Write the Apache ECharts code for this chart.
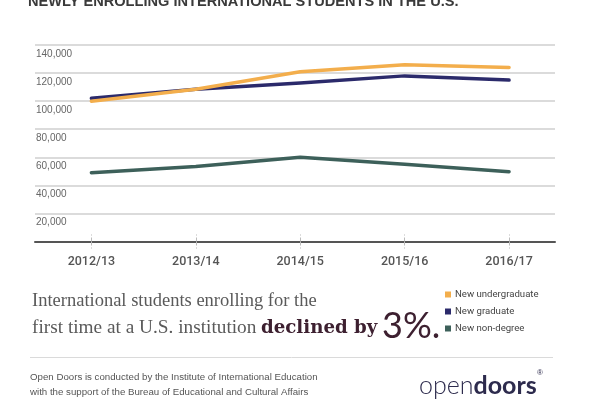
<!DOCTYPE html>
<html>
<head>
<meta charset="utf-8">
<script src="https://cdn.jsdelivr.net/npm/echarts@6/dist/echarts.min.js"></script>
<style>html,body{margin:0;padding:0;background:#fff;}#c{width:600px;height:400px;}</style>
</head>
<body>
<div id="c"></div>
<script>
// ---- data ----
const categories = ['2012/13', '2013/14', '2014/15', '2015/16', '2016/17'];
const newUndergraduate = [100000, 108500, 121000, 126000, 124000];
const newGraduate = [102000, 108500, 113000, 118000, 115000];
const newNonDegree = [49000, 53500, 60000, 55000, 49700];
const seriesNames = ['New undergraduate', 'New graduate', 'New non-degree'];
const yMax = 140000;
const yStep = 20000;
const titleText = 'NEWLY ENROLLING INTERNATIONAL STUDENTS IN THE U.S.';

const toPairs = arr => arr.map((v, i) => [i, v]);
const catIdx = categories.map((c, i) => i);

const chart = echarts.init(document.getElementById('c'), null, {renderer: 'canvas'});
const sans = "'Roboto', 'Liberation Sans', sans-serif";

const option = {
  backgroundColor: '#ffffff',
  animation: false,
  grid: {left: 35, right: 45, top: 45, bottom: 158.5},
  xAxis: [{
    type: 'value', min: -0.54, max: 4.44, position: 'bottom',
    axisLine: {show: true, lineStyle: {color: '#555', width: 2}},
    axisTick: {show: true, customValues: catIdx, length: 7, lineStyle: {color: '#bbb', width: 1, type: 'dashed'}},
    axisLabel: {show: true, customValues: catIdx, margin: 14,
      formatter: v => categories[Math.round(v)],
      color: '#555', fontSize: 12.5, fontWeight: 500, fontFamily: sans},
    splitLine: {show: false}
  }, {
    type: 'value', min: -0.54, max: 4.44, position: 'bottom', offset: 0,
    axisLine: {show: false},
    axisTick: {show: true, inside: true, customValues: catIdx, length: 7, lineStyle: {color: '#bbb', width: 1, type: 'dashed'}},
    axisLabel: {show: false},
    splitLine: {show: false}
  }],
  yAxis: {
    type: 'value', min: 0, max: yMax, interval: yStep,
    axisLine: {show: false}, axisTick: {show: false},
    splitLine: {lineStyle: {color: '#cfcfcf', width: 1.5}},
    axisLabel: {inside: true, margin: 1, showMinLabel: false,
      verticalAlign: 'top', padding: [4, 0, 0, 0],
      formatter: v => v.toLocaleString('en-US'),
      color: '#666', fontSize: 10, fontFamily: "'Liberation Sans', Arial, sans-serif"}
  },
  legend: {
    orient: 'vertical', left: 445, top: 289, icon: 'rect',
    itemWidth: 6, itemHeight: 6, itemGap: 6, padding: 0,
    data: seriesNames,
    textStyle: {color: '#444', fontSize: 9.6, fontFamily: sans, lineHeight: 11, padding: [0, 0, 0, -1]}
  },
  series: [
    {name: seriesNames[1], type: 'line', data: toPairs(newGraduate), symbol: 'none',
      color: '#2b2a6b', lineStyle: {width: 3.5, cap: 'round', join: 'round'}},
    {name: seriesNames[0], type: 'line', data: toPairs(newUndergraduate), symbol: 'none',
      color: '#f3ae4c', lineStyle: {width: 3.5, cap: 'round', join: 'round'}},
    {name: seriesNames[2], type: 'line', data: toPairs(newNonDegree), symbol: 'none',
      color: '#3d605a', lineStyle: {width: 3.5, cap: 'round', join: 'round'}}
  ],
  graphic: [
    {type: 'text', left: 28, top: -6, style: {text: titleText, fill: '#3a3a3a',
      font: "bold 14.6px 'Liberation Sans', sans-serif"}},
    {type: 'text', left: 32, top: 292, style: {text: 'International students enrolling for the',
      fill: '#5a5a5a', font: "18.5px 'Liberation Serif', serif"}},
    {type: 'text', left: 32, top: 318, style: {text: 'first time at a U.S. institution',
      fill: '#5a5a5a', font: "19.3px 'Liberation Serif', serif"}},
    {type: 'text', left: 261, top: 319, style: {text: 'declined by',
      fill: '#3d2030', font: "bold 18.2px 'DejaVu Serif', serif"}},
    {type: 'text', left: 382, top: 308, style: {text: '3%.',
      fill: '#3d2030', font: "36px 'Lato', 'Open Sans', sans-serif"}},
    {type: 'line', shape: {x1: 30, y1: 357.5, x2: 553, y2: 357.5}, style: {stroke: '#dadada', lineWidth: 1}},
    {type: 'text', left: 30, top: 372, style: {text: 'Open Doors is conducted by the Institute of International Education',
      fill: '#555', font: "9.7px 'Liberation Sans', sans-serif"}},
    {type: 'text', left: 30, top: 387, style: {text: 'with the support of the Bureau of Educational and Cultural Affairs',
      fill: '#555', font: "9.7px 'Liberation Sans', sans-serif"}},
    {type: 'text', left: 419, top: 373, style: {text: '{a|open}{b|doors}',
      rich: {a: {fill: '#2d2b4d', fontSize: 25, fontWeight: 300, fontFamily: "'Lato', 'Open Sans', sans-serif"},
             b: {fill: '#2d2b4d', fontSize: 25, fontWeight: 'bold', fontFamily: "'Lato', 'Open Sans', sans-serif"}}}},
    {type: 'text', left: 537, top: 369, style: {text: '®', fill: '#2d2b4d', font: "8px 'Liberation Sans', sans-serif"}}
  ]
};
chart.setOption(option);
</script>
</body>
</html>
